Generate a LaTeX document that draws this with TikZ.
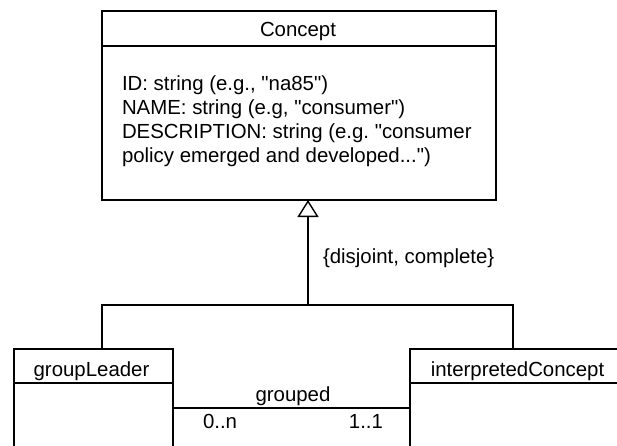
\documentclass[tikz,border=0pt]{standalone}
\usepackage{fontspec}
\setmainfont{Liberation Sans}[Ligatures=TeXOff]
\usetikzlibrary{arrows.meta}
\frenchspacing
\begin{document}
\begin{tikzpicture}[x=1pt,y=-1pt,
  umlbox/.style={draw,line width=1.4pt,rectangle,inner sep=0pt,outer sep=0pt},
  lbl/.style={inner sep=0pt,outer sep=0pt,font=\fontsize{20.4}{24.5}\selectfont\frenchspacing},
  conn/.style={line width=1.4pt}]
\useasboundingbox (0,0) rectangle (617,446);
\clip (0,0) rectangle (617,446);
% Concept class
\node[umlbox,minimum width=394pt,minimum height=189pt] (C) at (299,105.5) {};
\coordinate (Chl) at (102,46);
\coordinate (Chr) at (496,46);
\draw[conn] (Chl) -- (Chr);
\node[lbl,anchor=base] (Ct) at (298,37) {Concept};
\node[lbl,anchor=base west] (a1) at (122,91) {ID: string (e.g., "na85")};
\node[lbl,anchor=base west] (a2) at (122,115) {NAME: string (e.g, "consumer")};
\node[lbl,anchor=base west] (a3) at (122,139) {DESCRIPTION: string (e.g. "consumer};
\node[lbl,anchor=base west] (a4) at (122,163) {policy emerged and developed...")};
% groupLeader
\node[umlbox,minimum width=159pt,minimum height=120pt] (G) at (93.5,409) {};
\coordinate (Ghl) at (14,383);
\coordinate (Ghr) at (173,383);
\draw[conn] (Ghl) -- (Ghr);
\node[lbl,anchor=base] (Gt) at (91.5,376) {groupLeader};
% interpretedConcept
\node[umlbox,minimum width=215pt,minimum height=120pt] (I) at (517.5,409) {};
\coordinate (Ihl) at (410,383);
\coordinate (Ihr) at (640,383);
\draw[conn] (Ihl) -- (Ihr);
\node[lbl,anchor=base] (It) at (517.5,376) {interpretedConcept};
% generalization
\coordinate (J) at (308,305);
\coordinate (Ctop) at (308,200);
\coordinate (Gn) at (102,349);
\coordinate (In) at (513,349);
\draw[conn,-{Triangle[open,width=21pt,length=17pt,line width=1.4pt]}] (J) -- (Ctop);
\draw[conn] (Gn) |- (J) -| (In);
\node[lbl,anchor=base west] (dj) at (323,263) {\{disjoint, complete\}};
% association
\coordinate (Ga) at (173,408);
\coordinate (Ia) at (410,408);
\draw[conn] (Ga) -- (Ia);
\node[lbl,anchor=base] (gr) at (293,401.5) {grouped};
\node[lbl,anchor=base west] (m1) at (203,428) {0..n};
\node[lbl,anchor=base east] (m2) at (383,428) {1..1};
\end{tikzpicture}
\end{document}
